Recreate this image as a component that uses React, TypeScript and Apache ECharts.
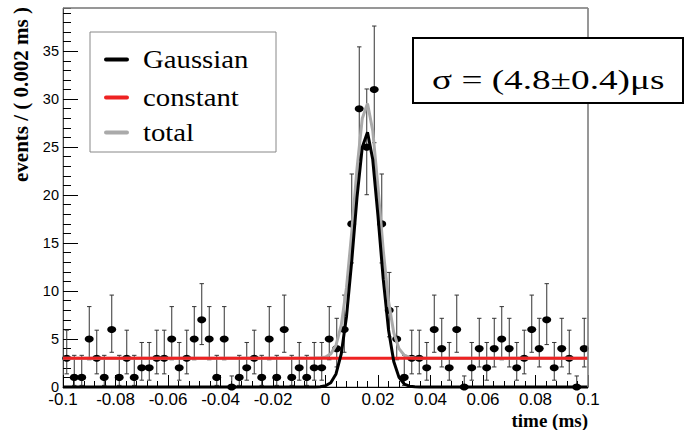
import React, { useEffect, useRef } from "react";
import * as echarts from "echarts";

// ---- data ----
const X_MIN = -0.1;
const X_MAX = 0.1;
const N_BINS = 70;

const counts = [
  3, 1, 1, 5, 3, 1, 6, 1, 3, 1,
  2, 2, 3, 3, 5, 2, 3, 5, 7, 5,
  1, 5, 0, 1, 2, 3, 1, 5, 1, 6,
  1, 2, 1, 2, 2, 5, 4, 6, 17, 29,
  25, 31, 17, 8, 5, 1, 3, 3, 2, 6,
  4, 2, 6, 0, 2, 4, 2, 4, 5, 4,
  2, 3, 6, 4, 7, 2, 4, 3, 0, 4,
];

// Poisson (RooFit style) asymmetric error table, by count
const errLow: Record<number, number> = {
  0: 0, 1: 0.83, 2: 1.29, 3: 1.63, 4: 1.91, 5: 2.16, 6: 2.38, 7: 2.58, 8: 2.77,
  17: 4.07, 25: 4.96, 29: 5.35, 31: 5.54,
};
const errHigh: Record<number, number> = {
  0: 1.15, 1: 2.3, 2: 2.64, 3: 2.92, 4: 3.16, 5: 3.38, 6: 3.58, 7: 3.77, 8: 3.94,
  17: 5.2, 25: 6.06, 29: 6.45, 31: 6.62,
};

// fitted curves
const curveX = [
  -0.1, -0.004, -0.002, 0, 0.002, 0.004, 0.006, 0.008, 0.01, 0.012, 0.014, 0.016,
  0.018, 0.02, 0.022, 0.024, 0.026, 0.028, 0.03, 0.032, 0.034, 0.036, 0.1,
];
const gaussianY = [
  0, 0.01, 0.03, 0.13, 0.45, 1.36, 3.45, 7.35, 13.14, 19.76, 24.98, 26.55,
  23.71, 17.81, 11.24, 5.97, 2.66, 1.0, 0.31, 0.08, 0.02, 0, 0,
];
const constantLevel = 3;

const legendNames = ["Gaussian", "constant", "total"];
const legendColors = ["#000000", "#ee2222", "#aaaaaa"];
const sigmaText = "σ = (4.8±0.4)μs";
const xTitle = "time (ms)";
const yTitle = "events / ( 0.002 ms )";

export default function App() {
  const ref = useRef<HTMLDivElement>(null);

  useEffect(() => {
    if (!ref.current) return;
    const chart = echarts.init(ref.current, undefined, { renderer: "svg" });

    const binW = (X_MAX - X_MIN) / N_BINS;
    const centers = counts.map((_, i) => X_MIN + (i + 0.5) * binW);
    const pointData = counts.map((n, i) => [centers[i], n]);
    const errData = counts.map((n, i) => [centers[i], n - errLow[n], n + errHigh[n]]);
    const gaussData = curveX.map((x, i) => [x, gaussianY[i]]);
    const totalData = curveX.map((x, i) => [x, gaussianY[i] + constantLevel]);
    const constData = [[X_MIN, constantLevel], [X_MAX, constantLevel]];

    const tickFmt = (v: number) => {
      const r = Math.round(v * 1000) / 1000;
      return r === 0 ? "0" : String(r);
    };

    const legendY = [59.5, 97.5, 132.5];

    const option: any = {
      animation: false,
      backgroundColor: "#ffffff",
      grid: {
        left: 63,
        top: 8,
        width: 525,
        height: 379,
        show: true,
        borderColor: "#888888",
        borderWidth: 1,
        backgroundColor: "transparent",
      },
      xAxis: {
        type: "value",
        min: X_MIN,
        max: X_MAX,
        interval: 0.02,
        axisLine: { onZero: false, lineStyle: { color: "#000", width: 1 } },
        axisTick: { inside: true, length: 12, lineStyle: { color: "#000" } },
        minorTick: { show: true, splitNumber: 5, length: 6, lineStyle: { color: "#000" } },
        splitLine: { show: false },
        axisLabel: {
          margin: 4,
          fontSize: 17,
          fontFamily: "Liberation Sans",
          color: "#000",
          formatter: tickFmt,
        },
      },
      yAxis: [
        {
          type: "value",
          min: 0,
          max: 39.5,
          interval: 5,
          axisLine: { show: true, onZero: false, lineStyle: { color: "#444" } },
          axisTick: { inside: true, length: 15, lineStyle: { color: "#000" } },
          splitLine: { show: false },
          axisLabel: {
            showMaxLabel: false,
            margin: 4,
            fontSize: 14.5,
            fontFamily: "Liberation Sans",
            color: "#000",
          },
        },
        {
          type: "value",
          min: 0,
          max: 39.5,
          interval: 1,
          position: "left",
          axisLine: { show: false, onZero: false },
          axisTick: { inside: true, length: 8, lineStyle: { color: "#000" } },
          splitLine: { show: false },
          axisLabel: { show: false },
        },
      ],
      series: [
        {
          type: "custom",
          name: "errors",
          data: errData,
          encode: { x: 0, y: [1, 2] },
          renderItem: (params: any, api: any) => {
            const x = api.value(0);
            const top = api.coord([x, api.value(2)]);
            const bot = api.coord([x, api.value(1)]);
            const c = 2.2;
            const st = { stroke: "#333", lineWidth: 1 };
            return {
              type: "group",
              children: [
                { type: "line", shape: { x1: top[0], y1: top[1], x2: bot[0], y2: bot[1] }, style: st },
                { type: "line", shape: { x1: top[0] - c, y1: top[1], x2: top[0] + c, y2: top[1] }, style: st },
                { type: "line", shape: { x1: bot[0] - c, y1: bot[1], x2: bot[0] + c, y2: bot[1] }, style: st },
              ],
            };
          },
        },
        {
          type: "scatter",
          name: "data",
          data: pointData,
          symbol: "circle",
          symbolSize: [9, 7],
          itemStyle: { color: "#000", opacity: 1 },
        },
        {
          type: "line",
          name: "total",
          data: totalData,
          showSymbol: false,
          lineStyle: { color: legendColors[2], width: 3 },
          itemStyle: { color: legendColors[2] },
        },
        {
          type: "line",
          name: "constant",
          data: constData,
          showSymbol: false,
          lineStyle: { color: legendColors[1], width: 3 },
          itemStyle: { color: legendColors[1] },
        },
        {
          type: "line",
          name: "Gaussian",
          data: gaussData,
          showSymbol: false,
          clip: false,
          lineStyle: { color: legendColors[0], width: 3 },
          itemStyle: { color: legendColors[0] },
        },
      ],
      graphic: [
        // frame top and right (over the top tick marks)
        { type: "line", z: 100, shape: { x1: 63, y1: 8, x2: 588, y2: 8 }, style: { stroke: "#888", lineWidth: 1.5 } },
        { type: "line", z: 100, shape: { x1: 588, y1: 8, x2: 588, y2: 387 }, style: { stroke: "#888", lineWidth: 1.5 } },
        // axis titles
        {
          type: "text",
          z: 100,
          x: 21,
          y: 7,
          rotation: Math.PI / 2,
          style: {
            text: yTitle,
            fontSize: 21,
            fontWeight: "bold",
            fontFamily: "Liberation Serif",
            fill: "#000",
            align: "right",
            verticalAlign: "middle",
            textAlign: "right",
            textVerticalAlign: "middle",
          },
        },
        {
          type: "text",
          z: 100,
          x: 588,
          y: 420,
          style: {
            text: xTitle,
            fontSize: 19,
            fontWeight: "bold",
            fontFamily: "Liberation Serif",
            fill: "#000",
            align: "right",
            verticalAlign: "middle",
            textAlign: "right",
            textVerticalAlign: "middle",
          },
        },
        // legend
        {
          type: "rect",
          z: 100,
          shape: { x: 90, y: 32, width: 186, height: 120 },
          style: { fill: "#fff", stroke: "#888", lineWidth: 1 },
        },
        ...legendNames.map((nm, i) => ({
          type: "line",
          z: 101,
          shape: { x1: 106, y1: legendY[i], x2: 127, y2: legendY[i] },
          style: { stroke: legendColors[i], lineWidth: 4, lineCap: "round" },
        })),
        ...legendNames.map((nm, i) => ({
          type: "text",
          z: 101,
          x: 143,
          y: legendY[i],
          scaleX: 1.15,
          style: {
            text: nm,
            fontSize: 25,
            fontFamily: "Liberation Serif",
            fill: "#000",
            align: "left",
            verticalAlign: "middle",
            textAlign: "left",
            textVerticalAlign: "middle",
          },
        })),
        // sigma box
        {
          type: "rect",
          z: 100,
          shape: { x: 413, y: 38, width: 270, height: 65 },
          style: { fill: "#fff", stroke: "#000", lineWidth: 2 },
        },
        {
          type: "text",
          z: 101,
          x: 432,
          y: 80,
          scaleX: 1.33,
          style: {
            text: sigmaText,
            fontSize: 28,
            fontFamily: "Liberation Serif",
            fill: "#000",
            align: "left",
            verticalAlign: "middle",
            textAlign: "left",
            textVerticalAlign: "middle",
          },
        },
      ],
    };

    chart.setOption(option);
    return () => chart.dispose();
  }, []);

  return (
    <div
      ref={ref}
      style={{ position: "absolute", left: 0, top: 0, width: 685, height: 430, background: "#fff" }}
    />
  );
}
